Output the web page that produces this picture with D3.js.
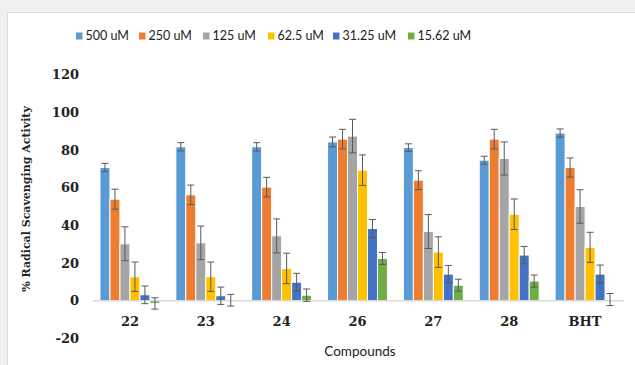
<!DOCTYPE html>
<html>
<head>
<meta charset="utf-8">
<script src="https://cdn.jsdelivr.net/npm/d3@7"></script>
<style>
  html, body { margin: 0; padding: 0; background: #f0f0f0; }
  svg { display: block; }
</style>
</head>
<body>
<svg id="chart" width="635" height="365"></svg>
<script>
// Compounds tested and the concentration series
const compounds = ["22", "23", "24", "26", "27", "28", "BHT"];
const seriesNames = ["500 uM", "250 uM", "125 uM", "62.5 uM", "31.25 uM", "15.62 uM"];
const seriesColors = ["#5B9BD5", "#ED7D31", "#A5A5A5", "#FFC000", "#4472C4", "#70AD47"];

// Mean % radical scavenging activity per compound, one array per concentration
const v500   = [70.7, 81.7, 81.7, 84.3, 81.3, 74.6, 89.0];
const v250   = [53.9, 56.2, 60.3, 85.8, 64.0, 85.8, 70.7];
const v125   = [30.2, 30.7, 34.4, 87.4, 36.7, 75.5, 50.0];
const v62_5  = [12.7, 12.7, 17.1, 69.3, 25.8, 45.9, 28.3];
const v31_25 = [3.1, 2.6, 9.8, 38.3, 14.1, 24.2, 14.1];
const v15_62 = [-1.5, 0.2, 2.9, 22.4, 8.2, 10.4, 0.6];

// Standard deviations (error bars)
const e500   = [2.2, 2.2, 2.2, 2.6, 2.0, 2.1, 2.2];
const e250   = [5.3, 5.2, 5.2, 5.2, 5.0, 5.2, 5.1];
const e125   = [9.0, 8.9, 9.0, 8.9, 9.0, 8.8, 8.9];
const e62_5  = [7.8, 7.8, 8.1, 8.1, 8.1, 8.1, 8.0];
const e31_25 = [4.7, 4.6, 4.7, 4.8, 4.6, 4.6, 4.8];
const e15_62 = [3.0, 3.1, 3.3, 3.2, 3.2, 3.2, 3.2];

const yTicks = [-20, 0, 20, 40, 60, 80, 100, 120];

const values = [v500, v250, v125, v62_5, v31_25, v15_62];
const errors = [e500, e250, e125, e62_5, e31_25, e15_62];

const svg = d3.select("#chart");

// white chart area with a thin border
svg.append("rect")
  .attr("x", 7.5).attr("y", 12.5)
  .attr("width", 640).attr("height", 360)
  .attr("fill", "#ffffff")
  .attr("stroke", "#dcdcdc").attr("stroke-width", 1);

const x0 = d3.scaleBand()
  .domain(compounds)
  .range([92, 623])
  .paddingInner(0.21)
  .paddingOuter(0.105);

const x1 = d3.scaleBand()
  .domain(seriesNames)
  .range([0, x0.bandwidth()]);

const y = d3.scaleLinear()
  .domain([-20, 120])
  .range([338.3, 74.7]);

// y axis tick labels (no axis line), plain hyphen for negatives
const yAxis = d3.axisLeft(y).tickValues(yTicks).tickSize(0).tickPadding(0)
  .tickFormat(d => String(d));
const yg = svg.append("g").attr("transform", "translate(79,0)").call(yAxis);
yg.select(".domain").remove();
yg.selectAll("text")
  .attr("font-family", "'DejaVu Serif', serif")
  .attr("font-weight", "bold")
  .attr("font-size", 13)
  .attr("fill", "#222");

// bars
const data = [];
compounds.forEach((c, i) => {
  seriesNames.forEach((s, j) => {
    data.push({ c, s, j, v: values[j][i], e: errors[j][i] });
  });
});

const bars = svg.append("g");
bars.selectAll("rect")
  .data(data)
  .join("rect")
  .attr("x", d => x0(d.c) + x1(d.s))
  .attr("y", d => y(Math.max(0, d.v)))
  .attr("width", x1.bandwidth())
  .attr("height", d => Math.abs(y(d.v) - y(0)))
  .attr("fill", d => seriesColors[d.j])
  .attr("stroke", "#ffffff")
  .attr("stroke-width", 1);

// zero baseline
svg.append("line")
  .attr("x1", 93).attr("x2", 624)
  .attr("y1", y(0)).attr("y2", y(0))
  .attr("stroke", "#d9d9d9").attr("stroke-width", 1.5);

// error bars
const eg = svg.append("g")
  .attr("stroke", "#5a5a5a")
  .attr("stroke-width", 1)
  .attr("fill", "none");
data.forEach(d => {
  const cx = x0(d.c) + x1(d.s) + x1.bandwidth() / 2;
  const yt = y(d.v + d.e), yb = y(d.v - d.e);
  eg.append("line").attr("x1", cx).attr("x2", cx).attr("y1", yt).attr("y2", yb);
  eg.append("line").attr("x1", cx - 3.5).attr("x2", cx + 3.5).attr("y1", yt).attr("y2", yt);
  eg.append("line").attr("x1", cx - 3.5).attr("x2", cx + 3.5).attr("y1", yb).attr("y2", yb);
});

// category labels
const xAxis = d3.axisBottom(x0).tickSize(0).tickPadding(0);
const xg = svg.append("g").attr("transform", "translate(0,317)").call(xAxis);
xg.select(".domain").remove();
xg.selectAll("text")
  .attr("dy", "0")
  .attr("font-family", "'DejaVu Serif', serif")
  .attr("font-weight", "bold")
  .attr("font-size", 13)
  .attr("fill", "#222")
  .attr("dominant-baseline", "middle")
  .attr("y", 5);

// axis titles
svg.append("text")
  .attr("transform", "translate(27,199) rotate(-90)")
  .attr("text-anchor", "middle")
  .attr("dominant-baseline", "middle")
  .attr("font-family", "'DejaVu Serif', serif")
  .attr("font-weight", "bold")
  .attr("font-size", 11)
  .attr("fill", "#222")
  .text("% Radical Scavenging Activity");

svg.append("text")
  .attr("x", 360).attr("y", 353)
  .attr("text-anchor", "middle")
  .attr("dominant-baseline", "middle")
  .attr("font-family", "Lato, sans-serif")
  .attr("font-size", 13.5)
  .attr("fill", "#222")
  .text("Compounds");

// legend
const legendX = [76, 139, 203, 268, 333, 408];
const lg = svg.append("g");
seriesNames.forEach((s, j) => {
  const g = lg.append("g").attr("transform", `translate(${legendX[j]},0)`);
  g.append("rect").attr("x", 0).attr("y", 32.5).attr("width", 6.5).attr("height", 7)
    .attr("fill", seriesColors[j]);
  g.append("text").attr("x", 9.5).attr("y", 36.5)
    .attr("dominant-baseline", "middle")
    .attr("font-family", "Lato, sans-serif")
    .attr("font-size", 12.5)
    .attr("fill", "#222")
    .text(s);
});
</script>
</body>
</html>
